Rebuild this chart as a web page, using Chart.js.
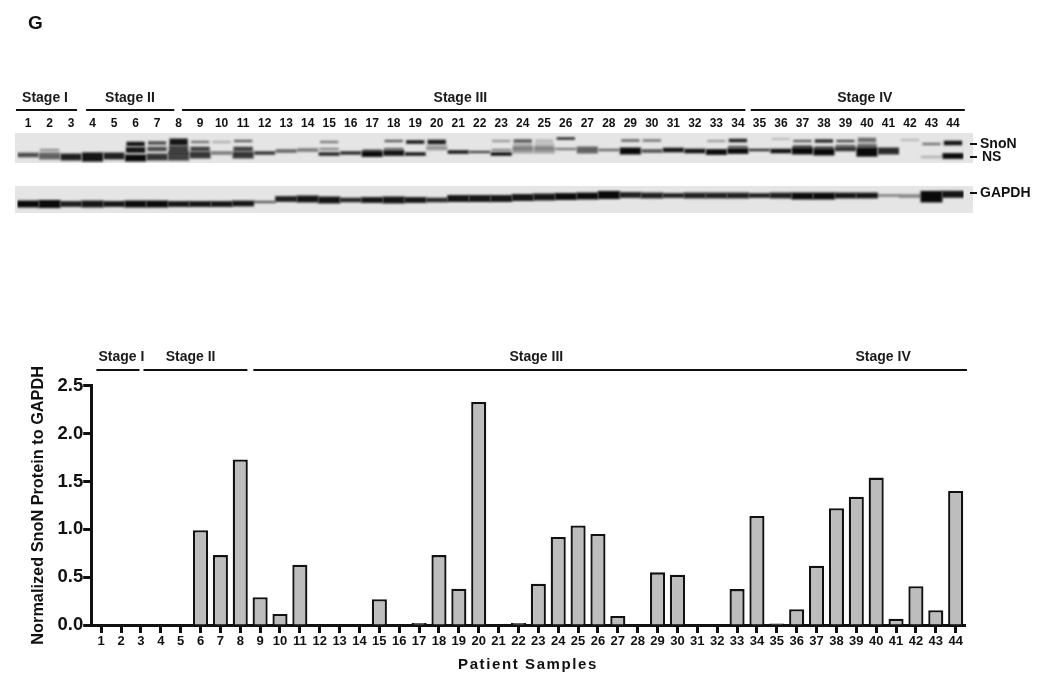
<!DOCTYPE html>
<html><head><meta charset="utf-8">
<style>html,body{margin:0;padding:0;background:#fff}canvas{position:absolute;left:0}</style>
<script src="https://cdn.jsdelivr.net/npm/chart.js@4"></script></head>
<body>
<canvas id="blot" width="1050" height="220" style="top:0"></canvas>
<canvas id="bars" width="1050" height="344" style="top:340px"></canvas>
<script>
const categories = Array.from({length:44},(_,i)=>String(i+1));
const snonValues = [0,0,0,0,0,0.99,0.73,1.73,0.29,0.115,0.63,0,0,0,0.27,0,0.02,0.73,0.38,2.33,0,0.02,0.43,0.92,1.04,0.95,0.095,0,0.55,0.525,0,0,0.375,1.14,0.015,0.165,0.62,1.22,1.34,1.54,0.065,0.405,0.155,1.40];
const yTicks = [0,0.5,1,1.5,2,2.5];
const stageNames = ['Stage I','Stage II','Stage III','Stage IV'];
const blotStageFrom = [-0.56,2.7,7.16,33.6], blotStageTo = [2.28,6.8,33.35,43.55], blotStageMid = [0.79,4.74,20.1,38.9];
const barStageFrom = [-0.24,2.13,7.66], barStageTo = [1.93,7.36,43.57], barStageMid = [1.02,4.5,21.9,39.35];
// Bands on the membrane: position, half thickness and darkness per lane
const nsPos  = [25,26,27,27,26,28,27,26,25,23,25,23,21,20,24,23,24,23,24,18,22,22,24,20,20,19,20,20,21,21,20,21,22,21,20,21,21,22,19,22,21,0,27,26];
const nsHalf = [2,3,3,4,3,3,3,4,3,1.5,3,1.5,1.5,1.5,1.5,1.5,2.5,2.5,1.5,2,1.5,1,1.5,3,3,1,3,1,3,1.5,2,2,2.5,2.5,1,2,3,3,2,4,3,0,1,2.5];
const nsInk  = [.7,.6,.9,.95,.9,1,.8,.75,.8,.5,.8,.8,.6,.5,.9,.85,1,.95,.95,.35,.95,.75,1,.3,.3,.5,.6,.6,1,.7,.95,.95,1,1,.9,.95,1,1,.8,1,.85,0,.25,1];
const midPos  = [0,20,0,0,0,20,19,19,19,0,19,0,0,0,19,0,21,19,0,0,0,0,20,17,17,0,0,0,0,0,0,0,0,17,0,0,17,18,16,16,0,0,0,0];
const midHalf = [0,1,0,0,0,2.5,2,3,2,0,2,0,0,0,1,0,1.5,1,0,0,0,0,1,3,3,0,0,0,0,0,0,0,0,1,0,0,1.5,1.5,1,2,0,0,0,0];
const midInk  = [0,.4,0,0,0,.95,.7,.75,.75,0,.75,0,0,0,.45,0,.55,.55,0,0,0,0,.45,.25,.22,0,0,0,0,0,0,0,0,.65,0,0,.65,.65,.55,.55,0,0,0,0];
const upPos  = [0,0,0,0,0,14,13,12,12,12,11,0,0,0,12,0,0,11,12,12,0,0,11,11,11,8.5,0,0,10.5,10.5,0,0,11,10.5,0,9,11,11,11,10,0,10,14,13];
const upHalf = [0,0,0,0,0,2,1.5,3,1,1,1,0,0,0,1,0,0,1,1.5,2,0,0,1,1.5,1.5,1,0,0,1,1,0,0,.7,1.5,0,.7,1,1.5,1,2,0,1,1,2];
const upInk  = [0,0,0,0,0,.95,.7,.95,.55,.25,.65,0,0,0,.5,0,0,.65,.95,.9,0,0,.35,.65,.2,.95,0,0,.65,.55,0,0,.45,.9,0,.25,.65,.85,.75,.55,0,.2,.55,.95];
const gapdhPos  = [74,74,74,74,74,74,74,74,74,74,73.5,72,69,69,70,70,70,70,70,70,68.5,68.5,68.5,67.5,67,66.5,66,65,65,65.5,65.5,65.5,65.5,65.5,65.5,65.5,66,66,65.5,65.5,65.5,66,66.7,64.3];
const gapdhHalf = [3,3.5,2.5,3,2.5,3,3,2.5,2.5,2.5,2.5,1,2.5,3,3,2,2.5,3,2.5,2,3,3,3,3,3,3,3,3.5,2.5,2.5,2,2.5,2.5,2.5,2,2.5,3,3,2.5,2.5,1,1.5,5,3];
const gapdhInk  = [1,1,.9,.95,.95,1,1,.95,.95,.95,.95,.65,.9,.95,.95,.85,.95,.95,.95,.85,.95,.95,.95,.95,.95,1,1,1,.9,.9,.9,.9,.9,.9,.9,.9,1,1,.95,.95,.5,.45,1,.95];

const FONT = '"Liberation Sans",Arial,sans-serif';
const textFont = s => `bold ${s}px ${FONT}`;
const bandData = (pos,half) => pos.map((p,i)=> half[i] ? [p-half[i]*1.15,p+half[i]*1.15] : null);
const bandSet = (pos,half,ink,pct) => ({data:bandData(pos,half), barPercentage:pct, categoryPercentage:1, grouped:false, borderWidth:0,
  backgroundColor:c=>`rgba(10,10,10,${ink[c.dataIndex]})`});

const stagePlugin = {
  id:'stages',
  afterDraw(chart,_,o){
    const c=chart.ctx,x=chart.scales.x; c.save();
    c.strokeStyle='#111';c.lineWidth=2;c.fillStyle='#1a1a1a';c.font=textFont(14);c.textAlign='center';c.textBaseline='middle';
    o.from.forEach((f,i)=>{c.beginPath();c.moveTo(x.getPixelForValue(f),o.lineY);c.lineTo(x.getPixelForValue(o.to[i]),o.lineY);c.stroke();});
    stageNames.forEach((n,i)=>c.fillText(n,x.getPixelForValue(o.mid[i]),o.textY));
    c.restore();
  }
};
const membranePlugin = {
  id:'membrane',
  beforeDatasetsDraw(chart){
    const c=chart.ctx,y=chart.scales.y; c.save();
    c.fillStyle='#e5e5e5';
    [[3,33],[56,83]].forEach(([a,b])=>{const t=y.getPixelForValue(a),u=y.getPixelForValue(b);c.fillRect(15,t,958,u-t);});
    c.filter='blur(1.2px)';
  },
  afterDatasetsDraw(chart){chart.ctx.restore();},
  afterDraw(chart){
    const c=chart.ctx;c.save();
    c.fillStyle='#111';c.font=textFont(19);c.textBaseline='middle';c.fillText('G',28,24);
    c.font=textFont(14);
    [['SnoN',144,980],['NS',157,982],['GAPDH',193,980]].forEach(([t,yy,xx])=>{c.fillRect(970,yy-1,7,2);c.fillText(t,xx,yy);});
    c.restore();
  }
};
new Chart(document.getElementById('blot'),{
  type:'bar',
  data:{labels:categories,datasets:[bandSet(upPos,upHalf,upInk,.85),bandSet(midPos,midHalf,midInk,.9),bandSet(nsPos,nsHalf,nsInk,.98),bandSet(gapdhPos,gapdhHalf,gapdhInk,1.02)]},
  options:{responsive:false,animation:false,
    layout:{padding:{left:17.25,right:86.25,top:0,bottom:5}},
    plugins:{legend:{display:false},tooltip:{enabled:false},
      stages:{from:blotStageFrom,to:blotStageTo,mid:blotStageMid,lineY:110,textY:98}},
    scales:{
      x:{position:'top',offset:true,grid:{display:false,drawTicks:false},border:{display:false},afterFit:s=>{s.height=130},
        ticks:{autoSkip:false,maxRotation:0,padding:-1,color:'#111',font:{family:FONT,weight:'bold',size:12}}},
      y:{display:false,reverse:true,min:0,max:85}
    }},
  plugins:[membranePlugin,stagePlugin]
});
new Chart(document.getElementById('bars'),{
  type:'bar',
  data:{labels:categories,datasets:[{data:snonValues,backgroundColor:'#bdbdbd',borderColor:'#111',borderWidth:2.3,barPercentage:.76,categoryPercentage:1}]},
  options:{responsive:false,animation:false,
    layout:{padding:{left:0,right:84.4,top:45.7,bottom:0}},
    plugins:{legend:{display:false},tooltip:{enabled:false},
      stages:{from:barStageFrom,to:barStageTo,mid:barStageMid,lineY:30,textY:17}},
    scales:{
      x:{offset:true,grid:{display:true,drawOnChartArea:false,drawTicks:true,tickLength:8,tickWidth:3,color:'#111',offset:false},border:{color:'#111',width:3},
        afterFit:s=>{s.height=59},
        ticks:{autoSkip:false,maxRotation:0,padding:1,color:'#111',font:{family:FONT,weight:'bold',size:13}}},
      y:{min:0,max:2.5,grid:{drawOnChartArea:false,tickLength:8,tickWidth:3,color:'#111'},border:{color:'#111',width:3},
        afterBuildTicks:a=>{a.ticks=yTicks.map(v=>({value:v}))},
        afterFit:s=>{s.width=91.2},
        title:{display:true,text:'Normalized SnoN Protein to GAPDH',color:'#111',font:{family:FONT,weight:'bold',size:16.3},padding:{top:29,bottom:0}},
        ticks:{padding:0,color:'#111',font:{family:FONT,weight:'bold',size:18.5},callback:v=>v.toFixed(1)}}
    }},
  plugins:[stagePlugin,{id:'xname',afterDraw(chart){
    const c=chart.ctx;c.save();c.font=textFont(15);c.letterSpacing='1.6px';c.fillStyle='#111';c.textAlign='center';c.textBaseline='middle';
    c.fillText('Patient Samples',528,325);c.restore();}}]
});
</script>
</body></html>
